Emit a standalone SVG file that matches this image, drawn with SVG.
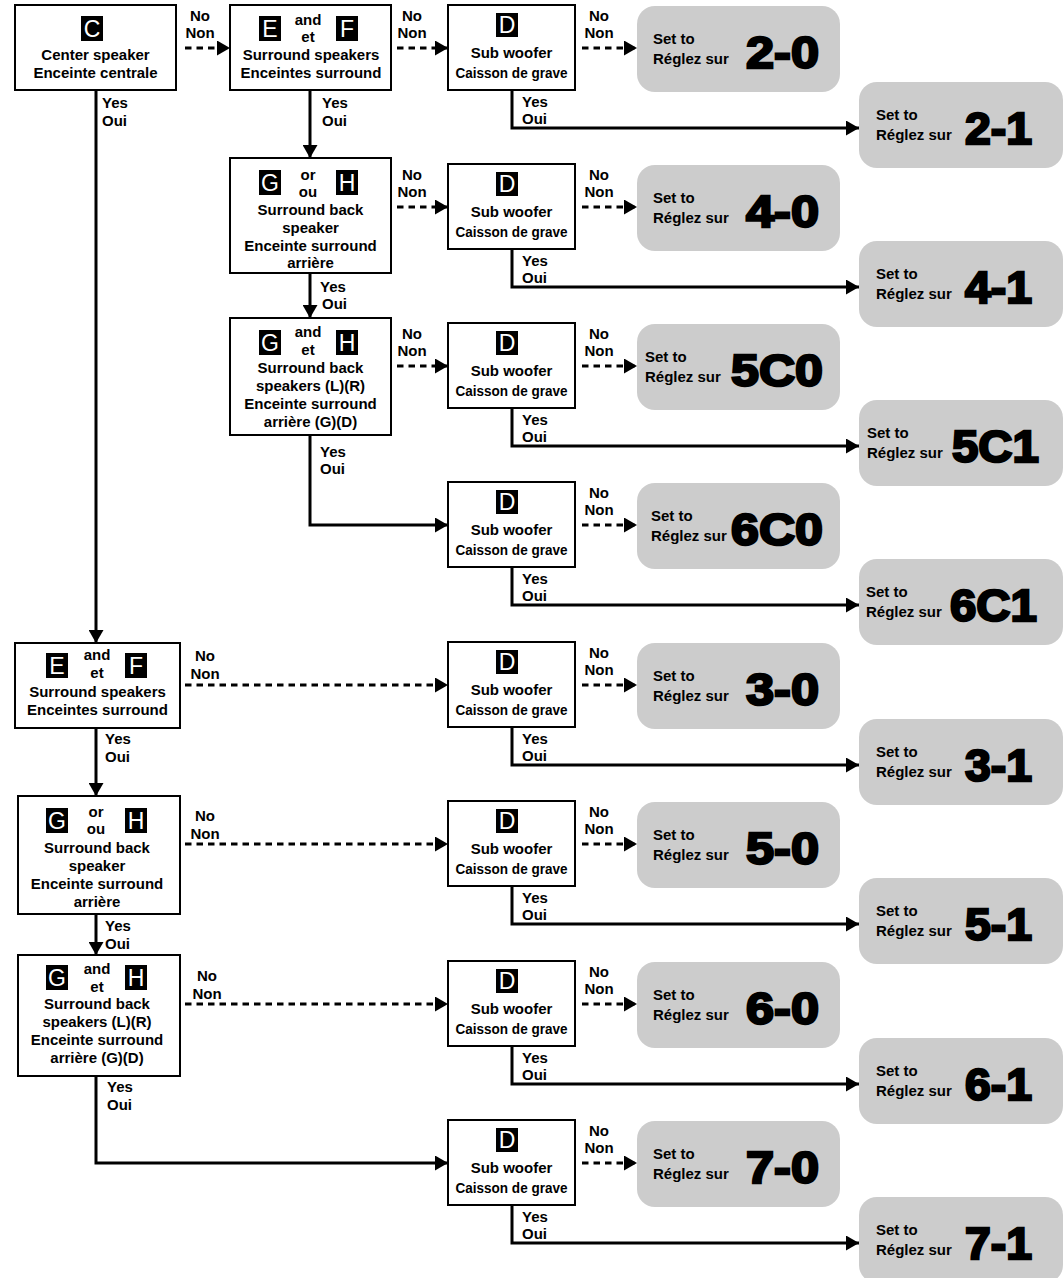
<svg xmlns="http://www.w3.org/2000/svg" width="1064" height="1278" viewBox="0 0 1064 1278">
<defs>
<style>
.bx{fill:#fff;stroke:#000;stroke-width:2}
.rs{fill:#cccccc}
.t{font-family:"Liberation Sans",Arial,sans-serif;font-weight:bold;font-size:15px;fill:#000}
.c{text-anchor:middle}
.big{font-family:"Liberation Sans",Arial,sans-serif;font-weight:bold;font-size:45px;fill:#000;stroke:#000;stroke-width:2.4}
.bg{fill:#000}
.bl{font-family:"Liberation Sans",Arial,sans-serif;font-size:23px;fill:#fff;text-anchor:middle}
.sl{stroke:#000;stroke-width:3;fill:none}
.dl{stroke:#000;stroke-width:3;fill:none;stroke-dasharray:6.5 5}
</style>
<marker id="ah" viewBox="0 0 13 15" refX="13" refY="7.5" markerWidth="13" markerHeight="15" orient="auto" markerUnits="userSpaceOnUse"><path d="M0,0 L13,7.5 L0,15 z" fill="#000"/></marker>
</defs>

<g id="connectors">
<path class="dl" d="M185,48 H230" marker-end="url(#ah)"/>
<path class="sl" d="M96,90 V643" marker-end="url(#ah)"/>
<path class="dl" d="M185,685 H448" marker-end="url(#ah)"/>
<path class="sl" d="M96,728 V796" marker-end="url(#ah)"/>
<path class="dl" d="M185,844 H448" marker-end="url(#ah)"/>
<path class="sl" d="M96,914 V955" marker-end="url(#ah)"/>
<path class="dl" d="M185,1004 H448" marker-end="url(#ah)"/>
<path class="sl" d="M96,1076 V1163 H448" marker-end="url(#ah)"/>
<path class="dl" d="M397,48 H448" marker-end="url(#ah)"/>
<path class="sl" d="M310,90 V158" marker-end="url(#ah)"/>
<path class="dl" d="M397,207 H448" marker-end="url(#ah)"/>
<path class="sl" d="M310,273 V318" marker-end="url(#ah)"/>
<path class="dl" d="M397,366 H448" marker-end="url(#ah)"/>
<path class="sl" d="M310,435 V525 H448" marker-end="url(#ah)"/>
<path class="dl" d="M582,48 H637" marker-end="url(#ah)"/>
<path class="sl" d="M512,90 V128 H859" marker-end="url(#ah)"/>
<path class="dl" d="M582,207 H637" marker-end="url(#ah)"/>
<path class="sl" d="M512,249 V287 H859" marker-end="url(#ah)"/>
<path class="dl" d="M582,366 H637" marker-end="url(#ah)"/>
<path class="sl" d="M512,408 V446 H859" marker-end="url(#ah)"/>
<path class="dl" d="M582,525 H637" marker-end="url(#ah)"/>
<path class="sl" d="M512,567 V605 H859" marker-end="url(#ah)"/>
<path class="dl" d="M582,685 H637" marker-end="url(#ah)"/>
<path class="sl" d="M512,727 V765 H859" marker-end="url(#ah)"/>
<path class="dl" d="M582,844 H637" marker-end="url(#ah)"/>
<path class="sl" d="M512,886 V924 H859" marker-end="url(#ah)"/>
<path class="dl" d="M582,1004 H637" marker-end="url(#ah)"/>
<path class="sl" d="M512,1046 V1084 H859" marker-end="url(#ah)"/>
<path class="dl" d="M582,1163 H637" marker-end="url(#ah)"/>
<path class="sl" d="M512,1205 V1243 H859" marker-end="url(#ah)"/>
<g class="t">
<text class="c" x="200" y="21">No</text><text class="c" x="200" y="38">Non</text>
<text x="102" y="108">Yes</text><text x="102" y="126">Oui</text>
<text class="c" x="412" y="21">No</text><text class="c" x="412" y="38">Non</text>
<text x="322" y="108">Yes</text><text x="322" y="126">Oui</text>
<text class="c" x="412" y="180">No</text><text class="c" x="412" y="197">Non</text>
<text x="320" y="292">Yes</text><text x="322" y="309">Oui</text>
<text class="c" x="412" y="339">No</text><text class="c" x="412" y="356">Non</text>
<text x="320" y="457">Yes</text><text x="320" y="474">Oui</text>
<text class="c" x="205" y="661">No</text><text class="c" x="205" y="679">Non</text>
<text x="105" y="744">Yes</text><text x="105" y="762">Oui</text>
<text class="c" x="205" y="821">No</text><text class="c" x="205" y="839">Non</text>
<text x="105" y="931">Yes</text><text x="105" y="949">Oui</text>
<text class="c" x="207" y="981">No</text><text class="c" x="207" y="999">Non</text>
<text x="107" y="1092">Yes</text><text x="107" y="1110">Oui</text>
<text class="c" x="599" y="21">No</text><text class="c" x="599" y="38">Non</text>
<text x="522" y="107">Yes</text><text x="522" y="124">Oui</text>
<text class="c" x="599" y="180">No</text><text class="c" x="599" y="197">Non</text>
<text x="522" y="266">Yes</text><text x="522" y="283">Oui</text>
<text class="c" x="599" y="339">No</text><text class="c" x="599" y="356">Non</text>
<text x="522" y="425">Yes</text><text x="522" y="442">Oui</text>
<text class="c" x="599" y="498">No</text><text class="c" x="599" y="515">Non</text>
<text x="522" y="584">Yes</text><text x="522" y="601">Oui</text>
<text class="c" x="599" y="658">No</text><text class="c" x="599" y="675">Non</text>
<text x="522" y="744">Yes</text><text x="522" y="761">Oui</text>
<text class="c" x="599" y="817">No</text><text class="c" x="599" y="834">Non</text>
<text x="522" y="903">Yes</text><text x="522" y="920">Oui</text>
<text class="c" x="599" y="977">No</text><text class="c" x="599" y="994">Non</text>
<text x="522" y="1063">Yes</text><text x="522" y="1080">Oui</text>
<text class="c" x="599" y="1136">No</text><text class="c" x="599" y="1153">Non</text>
<text x="522" y="1222">Yes</text><text x="522" y="1239">Oui</text>
</g>
</g>

<g id="n-center">
<rect class="bx" x="15" y="5" width="161" height="85"/>
<rect class="bg" x="81" y="16" width="22" height="25"/><text class="bl" x="92" y="37">C</text>
<text class="t c" x="95.5" y="60">Center speaker</text>
<text class="t c" x="95.5" y="78">Enceinte centrale</text>
</g>
<g id="n-surround-2">
<rect class="bx" x="15" y="643" width="165" height="85"/>
<rect class="bg" x="46" y="653" width="22" height="25"/><text class="bl" x="57" y="674">E</text>
<rect class="bg" x="125" y="653" width="22" height="25"/><text class="bl" x="136" y="674">F</text>
<text class="t c" x="97" y="660">and</text><text class="t c" x="97" y="678">et</text>
<text class="t c" x="97.5" y="697">Surround speakers</text>
<text class="t c" x="97.5" y="715">Enceintes surround</text>
</g>
<g id="n-back-or-2">
<rect class="bx" x="18" y="796" width="162" height="118"/>
<rect class="bg" x="46" y="808" width="22" height="25"/><text class="bl" x="57" y="829">G</text>
<rect class="bg" x="125" y="808" width="22" height="25"/><text class="bl" x="136" y="829">H</text>
<text class="t c" x="96" y="817">or</text><text class="t c" x="96" y="834">ou</text>
<text class="t c" x="97" y="853">Surround back</text>
<text class="t c" x="97" y="871">speaker</text>
<text class="t c" x="97" y="889">Enceinte surround</text>
<text class="t c" x="97" y="907">arrière</text>
</g>
<g id="n-back-and-2">
<rect class="bx" x="18" y="955" width="162" height="121"/>
<rect class="bg" x="46" y="965" width="22" height="25"/><text class="bl" x="57" y="986">G</text>
<rect class="bg" x="125" y="965" width="22" height="25"/><text class="bl" x="136" y="986">H</text>
<text class="t c" x="97" y="974">and</text><text class="t c" x="97" y="992">et</text>
<text class="t c" x="97" y="1009">Surround back</text>
<text class="t c" x="97" y="1027">speakers (L)(R)</text>
<text class="t c" x="97" y="1045">Enceinte surround</text>
<text class="t c" x="97" y="1063">arrière (G)(D)</text>
</g>

<g id="n-surround-1">
<rect class="bx" x="230" y="5" width="161" height="85"/>
<rect class="bg" x="259" y="16" width="22" height="25"/><text class="bl" x="270" y="37">E</text>
<rect class="bg" x="336" y="16" width="22" height="25"/><text class="bl" x="347" y="37">F</text>
<text class="t c" x="308" y="25">and</text><text class="t c" x="308" y="42">et</text>
<text class="t c" x="311" y="60">Surround speakers</text>
<text class="t c" x="311" y="78">Enceintes surround</text>
</g>
<g id="n-back-or-1">
<rect class="bx" x="230" y="158" width="161" height="115"/>
<rect class="bg" x="259" y="170" width="22" height="25"/><text class="bl" x="270" y="191">G</text>
<rect class="bg" x="336" y="170" width="22" height="25"/><text class="bl" x="347" y="191">H</text>
<text class="t c" x="308" y="180">or</text><text class="t c" x="308" y="197">ou</text>
<text class="t c" x="310.5" y="215">Surround back</text>
<text class="t c" x="310.5" y="233">speaker</text>
<text class="t c" x="310.5" y="251">Enceinte surround</text>
<text class="t c" x="310.5" y="268">arrière</text>
</g>
<g id="n-back-and-1">
<rect class="bx" x="230" y="318" width="161" height="117"/>
<rect class="bg" x="259" y="330" width="22" height="25"/><text class="bl" x="270" y="351">G</text>
<rect class="bg" x="336" y="330" width="22" height="25"/><text class="bl" x="347" y="351">H</text>
<text class="t c" x="308" y="337">and</text><text class="t c" x="308" y="355">et</text>
<text class="t c" x="310.5" y="373">Surround back</text>
<text class="t c" x="310.5" y="391">speakers (L)(R)</text>
<text class="t c" x="310.5" y="409">Enceinte surround</text>
<text class="t c" x="310.5" y="427">arrière (G)(D)</text>
</g>

<g id="n-sub-1"><rect class="bx" x="448" y="5" width="127" height="85"/><rect class="bg" x="496" y="13" width="22" height="24"/><text class="bl" x="507" y="33">D</text><text class="t c" x="511.5" y="58">Sub woofer</text><text class="t c" x="511.5" y="77.5" textLength="112" lengthAdjust="spacingAndGlyphs">Caisson de grave</text></g>
<g id="n-sub-2"><rect class="bx" x="448" y="164" width="127" height="85"/><rect class="bg" x="496" y="172" width="22" height="24"/><text class="bl" x="507" y="192">D</text><text class="t c" x="511.5" y="217">Sub woofer</text><text class="t c" x="511.5" y="236.5" textLength="112" lengthAdjust="spacingAndGlyphs">Caisson de grave</text></g>
<g id="n-sub-3"><rect class="bx" x="448" y="323" width="127" height="85"/><rect class="bg" x="496" y="331" width="22" height="24"/><text class="bl" x="507" y="351">D</text><text class="t c" x="511.5" y="376">Sub woofer</text><text class="t c" x="511.5" y="395.5" textLength="112" lengthAdjust="spacingAndGlyphs">Caisson de grave</text></g>
<g id="n-sub-4"><rect class="bx" x="448" y="482" width="127" height="85"/><rect class="bg" x="496" y="490" width="22" height="24"/><text class="bl" x="507" y="510">D</text><text class="t c" x="511.5" y="535">Sub woofer</text><text class="t c" x="511.5" y="554.5" textLength="112" lengthAdjust="spacingAndGlyphs">Caisson de grave</text></g>
<g id="n-sub-5"><rect class="bx" x="448" y="642" width="127" height="85"/><rect class="bg" x="496" y="650" width="22" height="24"/><text class="bl" x="507" y="670">D</text><text class="t c" x="511.5" y="695">Sub woofer</text><text class="t c" x="511.5" y="714.5" textLength="112" lengthAdjust="spacingAndGlyphs">Caisson de grave</text></g>
<g id="n-sub-6"><rect class="bx" x="448" y="801" width="127" height="85"/><rect class="bg" x="496" y="809" width="22" height="24"/><text class="bl" x="507" y="829">D</text><text class="t c" x="511.5" y="854">Sub woofer</text><text class="t c" x="511.5" y="873.5" textLength="112" lengthAdjust="spacingAndGlyphs">Caisson de grave</text></g>
<g id="n-sub-7"><rect class="bx" x="448" y="961" width="127" height="85"/><rect class="bg" x="496" y="969" width="22" height="24"/><text class="bl" x="507" y="989">D</text><text class="t c" x="511.5" y="1014">Sub woofer</text><text class="t c" x="511.5" y="1033.5" textLength="112" lengthAdjust="spacingAndGlyphs">Caisson de grave</text></g>
<g id="n-sub-8"><rect class="bx" x="448" y="1120" width="127" height="85"/><rect class="bg" x="496" y="1128" width="22" height="24"/><text class="bl" x="507" y="1148">D</text><text class="t c" x="511.5" y="1173">Sub woofer</text><text class="t c" x="511.5" y="1192.5" textLength="112" lengthAdjust="spacingAndGlyphs">Caisson de grave</text></g>

<g id="r-2-0"><rect class="rs" x="637" y="6" width="203" height="86" rx="18"/><text class="t" x="653" y="44">Set to</text><text class="t" x="653" y="64">Réglez sur</text><text class="big" x="746" y="68" textLength="73" lengthAdjust="spacingAndGlyphs">2-0</text></g>
<g id="r-2-1"><rect class="rs" x="859" y="82" width="204" height="86" rx="18"/><text class="t" x="876" y="120">Set to</text><text class="t" x="876" y="140">Réglez sur</text><text class="big" x="965" y="144" textLength="67" lengthAdjust="spacingAndGlyphs">2-1</text></g>
<g id="r-4-0"><rect class="rs" x="637" y="165" width="203" height="86" rx="18"/><text class="t" x="653" y="203">Set to</text><text class="t" x="653" y="223">Réglez sur</text><text class="big" x="746" y="227" textLength="73" lengthAdjust="spacingAndGlyphs">4-0</text></g>
<g id="r-4-1"><rect class="rs" x="859" y="241" width="204" height="86" rx="18"/><text class="t" x="876" y="279">Set to</text><text class="t" x="876" y="299">Réglez sur</text><text class="big" x="965" y="303" textLength="67" lengthAdjust="spacingAndGlyphs">4-1</text></g>
<g id="r-5C0"><rect class="rs" x="637" y="324" width="203" height="86" rx="18"/><text class="t" x="645" y="362">Set to</text><text class="t" x="645" y="382">Réglez sur</text><text class="big" x="731" y="386" textLength="92" lengthAdjust="spacingAndGlyphs">5C0</text></g>
<g id="r-5C1"><rect class="rs" x="859" y="400" width="204" height="86" rx="18"/><text class="t" x="867" y="438">Set to</text><text class="t" x="867" y="458">Réglez sur</text><text class="big" x="952" y="462" textLength="87" lengthAdjust="spacingAndGlyphs">5C1</text></g>
<g id="r-6C0"><rect class="rs" x="637" y="483" width="203" height="86" rx="18"/><text class="t" x="651" y="521">Set to</text><text class="t" x="651" y="541">Réglez sur</text><text class="big" x="731" y="545" textLength="92" lengthAdjust="spacingAndGlyphs">6C0</text></g>
<g id="r-6C1"><rect class="rs" x="859" y="559" width="204" height="86" rx="18"/><text class="t" x="866" y="597">Set to</text><text class="t" x="866" y="617">Réglez sur</text><text class="big" x="950" y="621" textLength="87" lengthAdjust="spacingAndGlyphs">6C1</text></g>
<g id="r-3-0"><rect class="rs" x="637" y="643" width="203" height="86" rx="18"/><text class="t" x="653" y="681">Set to</text><text class="t" x="653" y="701">Réglez sur</text><text class="big" x="746" y="705" textLength="73" lengthAdjust="spacingAndGlyphs">3-0</text></g>
<g id="r-3-1"><rect class="rs" x="859" y="719" width="204" height="86" rx="18"/><text class="t" x="876" y="757">Set to</text><text class="t" x="876" y="777">Réglez sur</text><text class="big" x="965" y="781" textLength="67" lengthAdjust="spacingAndGlyphs">3-1</text></g>
<g id="r-5-0"><rect class="rs" x="637" y="802" width="203" height="86" rx="18"/><text class="t" x="653" y="840">Set to</text><text class="t" x="653" y="860">Réglez sur</text><text class="big" x="746" y="864" textLength="73" lengthAdjust="spacingAndGlyphs">5-0</text></g>
<g id="r-5-1"><rect class="rs" x="859" y="878" width="204" height="86" rx="18"/><text class="t" x="876" y="916">Set to</text><text class="t" x="876" y="936">Réglez sur</text><text class="big" x="965" y="940" textLength="67" lengthAdjust="spacingAndGlyphs">5-1</text></g>
<g id="r-6-0"><rect class="rs" x="637" y="962" width="203" height="86" rx="18"/><text class="t" x="653" y="1000">Set to</text><text class="t" x="653" y="1020">Réglez sur</text><text class="big" x="746" y="1024" textLength="73" lengthAdjust="spacingAndGlyphs">6-0</text></g>
<g id="r-6-1"><rect class="rs" x="859" y="1038" width="204" height="86" rx="18"/><text class="t" x="876" y="1076">Set to</text><text class="t" x="876" y="1096">Réglez sur</text><text class="big" x="965" y="1100" textLength="67" lengthAdjust="spacingAndGlyphs">6-1</text></g>
<g id="r-7-0"><rect class="rs" x="637" y="1121" width="203" height="86" rx="18"/><text class="t" x="653" y="1159">Set to</text><text class="t" x="653" y="1179">Réglez sur</text><text class="big" x="746" y="1183" textLength="73" lengthAdjust="spacingAndGlyphs">7-0</text></g>
<g id="r-7-1"><rect class="rs" x="859" y="1197" width="204" height="86" rx="18"/><text class="t" x="876" y="1235">Set to</text><text class="t" x="876" y="1255">Réglez sur</text><text class="big" x="965" y="1259" textLength="67" lengthAdjust="spacingAndGlyphs">7-1</text></g>
</svg>
